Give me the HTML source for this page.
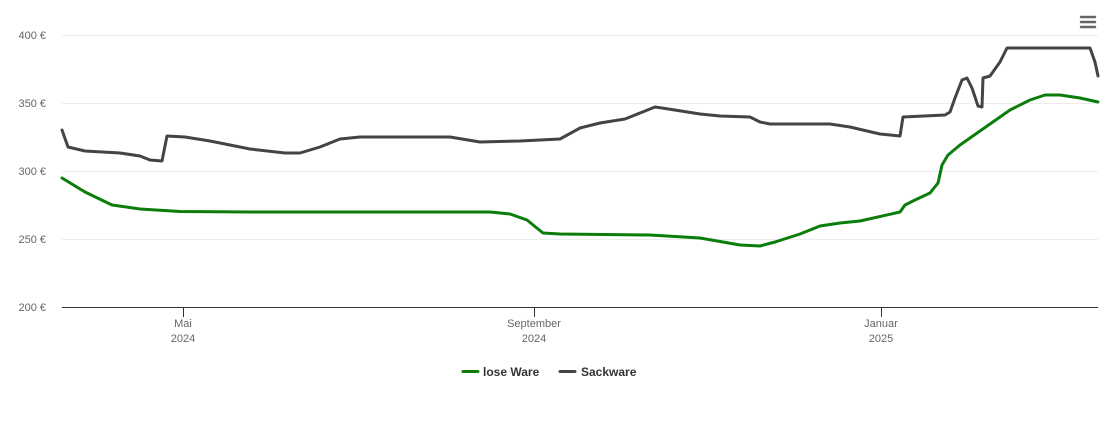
<!DOCTYPE html>
<html><head><meta charset="utf-8"><style>
html,body{margin:0;padding:0;background:#fff;}
svg{display:block;font-family:"Liberation Sans",sans-serif;}
</style></head><body>
<svg width="1110" height="422" viewBox="0 0 1110 422">
<g stroke="#ececec" stroke-width="1">
<line x1="62" x2="1098" y1="35.5" y2="35.5"/>
<line x1="62" x2="1098" y1="103.5" y2="103.5"/>
<line x1="62" x2="1098" y1="171.5" y2="171.5"/>
<line x1="62" x2="1098" y1="239.5" y2="239.5"/>
</g>
<line x1="62" x2="1098" y1="307.5" y2="307.5" stroke="#333" stroke-width="1"/>
<g stroke="#333" stroke-width="1">
<line x1="183.5" x2="183.5" y1="307" y2="317"/>
<line x1="534.5" x2="534.5" y1="307" y2="317"/>
<line x1="881.5" x2="881.5" y1="307" y2="317"/>
</g>
<g font-size="11" fill="#666" text-anchor="end">
<text x="46" y="39">400 €</text>
<text x="46" y="107">350 €</text>
<text x="46" y="175">300 €</text>
<text x="46" y="243">250 €</text>
<text x="46" y="311">200 €</text>
</g>
<g font-size="11" fill="#666" text-anchor="middle">
<text x="183" y="327">Mai</text><text x="183" y="342">2024</text>
<text x="534" y="327">September</text><text x="534" y="342">2024</text>
<text x="881" y="327">Januar</text><text x="881" y="342">2025</text>
</g>
<polyline fill="none" stroke="#0a7d0a" stroke-width="3" stroke-linejoin="round" stroke-linecap="round" points="62,178 85,192 112,205 140,209 180,211.5 250,212 490,212 510,214 527,220 543,233 560,234 650,235 700,238 740,245 760,246 775,242 800,234 820,226 840,223 860,221 900,212 905,205 915,200 930,193 938,183 942,165 948,155 960,145 990,124 1010,110 1030,100 1045,95 1060,95 1080,98 1098,102"/>
<polyline fill="none" stroke="#444" stroke-width="3" stroke-linejoin="round" stroke-linecap="round" points="62,130 68,147 85,151 120,153 140,156 150,160 162,161 167,136 185,137 210,141 250,149 285,153 300,153 320,147 340,139 360,137 450,137 480,142 520,141 560,139 580,128 600,123 625,119 640,113 655,107 662,108 700,114 720,116 750,117 760,122 770,124 830,124 850,127 880,134 900,136 903,117 945,115 950,112 955,98 962,80 967,78 972,88 978,106 982,107 983,78 990,76 1000,62 1007,48 1090,48 1095,62 1098,76"/>
<g font-size="12" font-weight="bold" fill="#333">
<line x1="463" x2="478" y1="371.5" y2="371.5" stroke="#0a7d0a" stroke-width="3" stroke-linecap="round"/>
<text x="483" y="376">lose Ware</text>
<line x1="560" x2="575" y1="371.5" y2="371.5" stroke="#444" stroke-width="3" stroke-linecap="round"/>
<text x="581" y="376">Sackware</text>
</g>
<g stroke="#666" stroke-width="2.5" stroke-linecap="round">
<line x1="1081" x2="1095" y1="17" y2="17"/>
<line x1="1081" x2="1095" y1="22" y2="22"/>
<line x1="1081" x2="1095" y1="27" y2="27"/>
</g>
</svg>
</body></html>
